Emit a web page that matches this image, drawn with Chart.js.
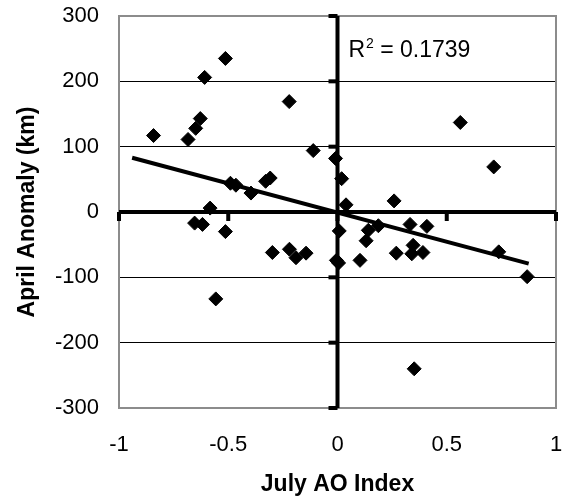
<!DOCTYPE html>
<html><head><meta charset="utf-8">
<script src="https://cdn.jsdelivr.net/npm/chart.js@4/dist/chart.umd.min.js"></script>
<style>html,body{margin:0;padding:0;background:#fff}#wrap{width:565px;height:500px}</style>
</head><body><div id="wrap"><canvas id="c" width="565" height="500"></canvas></div>
<script>
const aoIndex = [-0.842, -0.684, -0.649, -0.628, -0.608, -0.513, -0.221, -0.111, -0.490, -0.465, -0.396, -0.329, -0.308, -0.583, -0.654, -0.618, -0.513, -0.557, -0.298, -0.220, -0.190, -0.144, -0.009, 0.019, 0.039, 0.259, 0.562, 0.715, 0.008, 0.141, 0.187, 0.131, 0.332, 0.409, -0.005, 0.005, 0.103, 0.269, 0.346, 0.340, 0.391, 0.738, 0.868, 0.351];
const aprilAnomaly = [117, 111, 128, 143, 206, 235, 169, 94, 44, 41, 29, 47, 52, 6, -17, -19, -30, -133, -62, -57, -70, -63, 82, 51, 11, 17, 137, 69, -29, -28, -21, -44, -19, -22, -74, -78, -74, -63, -51, -64, -62, -61, -99, -240];
const trendX = [-0.94, 0.875];
const trendY = [83, -79];
const xTicks = [-1, -0.5, 0, 0.5, 1];
const yTicks = [-300, -200, -100, 0, 100, 200, 300];
const xTitle = 'July AO Index';
const yTitle = 'April Anomaly (km)';
const r2Value = '0.1739';
const r2At = [0.05, 238];

const FONT = "'Liberation Sans', Arial, sans-serif";

const framePlugin = {
  id: 'frame',
  beforeDatasetsDraw(chart) {
    const {ctx, chartArea: a, scales: {x, y}} = chart;
    ctx.save();
    ctx.strokeStyle = '#8c8c8c';
    ctx.lineWidth = 2;
    ctx.strokeRect(a.left, a.top, a.right - a.left, a.bottom - a.top);
    const x0 = x.getPixelForValue(0), y0 = y.getPixelForValue(0);
    ctx.fillStyle = '#000';
    ctx.fillRect(a.left, y0 - 2, a.right - a.left, 4);
    ctx.fillRect(x0 - 2, a.top, 4, a.bottom - a.top);
    xTicks.forEach(v => {
      const px = x.getPixelForValue(v);
      ctx.fillRect(px - 2, y0, 4, 9);
    });
    yTicks.forEach(v => {
      const py = y.getPixelForValue(v);
      ctx.fillRect(x0 - 9, py - 2, 9, 4);
    });
    ctx.restore();
  },
  afterDatasetsDraw(chart) {
    const {ctx, scales: {x, y}} = chart;
    ctx.save();
    ctx.fillStyle = '#000';
    ctx.textBaseline = 'alphabetic';
    let px = x.getPixelForValue(r2At[0]);
    const py = y.getPixelForValue(r2At[1]);
    ctx.font = '23px ' + FONT;
    ctx.fillText('R', px, py);
    px += ctx.measureText('R').width + 1;
    ctx.font = '14px ' + FONT;
    ctx.fillText('2', px, py - 9);
    px += ctx.measureText('2').width;
    ctx.font = '23px ' + FONT;
    ctx.fillText(' = ' + r2Value, px, py);
    ctx.restore();
  }
};

new Chart(document.getElementById('c'), {
  type: 'scatter',
  data: {
    datasets: [
      {
        type: 'line',
        data: trendX.map((v, i) => ({x: v, y: trendY[i]})),
        borderColor: '#000',
        borderWidth: 4,
        pointRadius: 0,
        fill: false,
        order: 0
      },
      {
        data: aoIndex.map((v, i) => ({x: v, y: aprilAnomaly[i]})),
        pointStyle: 'rectRot',
        pointRadius: 7,
        pointBackgroundColor: '#000',
        pointBorderColor: '#000',
        pointBorderWidth: 1,
        order: 1
      }
    ]
  },
  options: {
    responsive: false,
    devicePixelRatio: 1,
    animation: false,
    layout: {padding: {top: 16, right: 9, left: 0, bottom: 0}},
    plugins: {legend: {display: false}, tooltip: {enabled: false}},
    scales: {
      x: {
        type: 'linear', min: -1, max: 1,
        afterBuildTicks: s => { s.ticks = xTicks.map(v => ({value: v})); },
        afterFit: s => { s.height = 92; s.paddingLeft = 0; s.paddingRight = 0; },
        grid: {display: false, drawTicks: false},
        border: {display: false},
        ticks: {color: '#000', font: {family: FONT, size: 22}, padding: 24, maxRotation: 0,
          callback: v => String(v)},
        title: {display: true, text: xTitle, color: '#000',
          font: {family: FONT, size: 23, weight: 'bold', lineHeight: 1}, padding: {top: 0, bottom: 4}}
      },
      y: {
        type: 'linear', min: -300, max: 300,
        afterBuildTicks: s => { s.ticks = yTicks.map(v => ({value: v})); },
        afterFit: s => { s.width = 119; s.paddingTop = 0; s.paddingBottom = 0; },
        grid: {drawTicks: false, lineWidth: 1,
          color: c => (Math.abs(c.tick.value) === 100 || Math.abs(c.tick.value) === 200) ? '#000' : 'rgba(0,0,0,0)'},
        border: {display: false},
        ticks: {color: '#000', font: {family: FONT, size: 22}, padding: 20,
          callback: v => String(v)},
        title: {display: true, text: yTitle, color: '#000',
          font: {family: FONT, size: 23, weight: 'bold', lineHeight: 1}, padding: {top: 16, bottom: 0}}
      }
    }
  },
  plugins: [framePlugin]
});
</script>
</body></html>
